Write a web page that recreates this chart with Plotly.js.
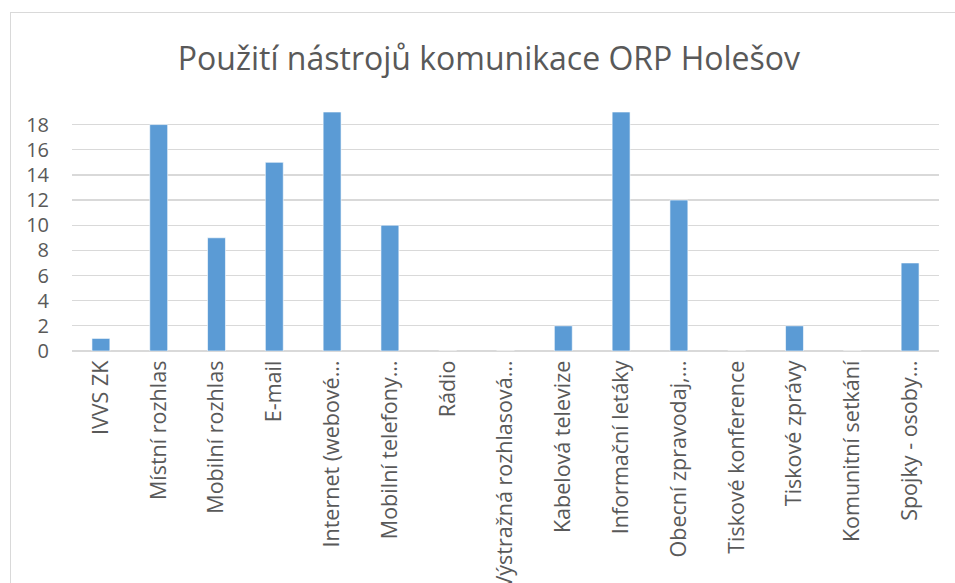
<!DOCTYPE html>
<html>
<head>
<meta charset="utf-8">
<script src="https://cdn.plot.ly/plotly-3.0.1.min.js"></script>
<style>
html,body{margin:0;padding:0;background:#fff;}
#frame{position:absolute;left:10px;top:12px;width:960px;height:600px;border:1px solid #D9D9D9;box-sizing:border-box;pointer-events:none;z-index:2;}
#chart{position:absolute;left:0;top:0;width:955px;height:583px;}
</style>
</head>
<body>
<div id="chart"></div>
<div id="frame"></div>
<script>
const categories = [
  "IVVS ZK",
  "Místní rozhlas",
  "Mobilní rozhlas",
  "E-mail",
  "Internet (webové…",
  "Mobilní telefony…",
  "Rádio",
  "Výstražná rozhlasová…",
  "Kabelová televize",
  "Informační letáky",
  "Obecní zpravodaj,…",
  "Tiskové konference",
  "Tiskové zprávy",
  "Komunitní setkání",
  "Spojky - osoby…"
];
const values = [1, 18, 9, 15, 19, 10, 0, 0, 2, 19, 12, 0, 2, 0, 7];
const yTicks = [0, 2, 4, 6, 8, 10, 12, 14, 16, 18];

const trace = {
  type: 'bar',
  x: categories,
  y: values,
  marker: {color: '#5B9BD5', line: {color: 'rgba(255,255,255,0.6)', width: 1}},
  hoverinfo: 'x+y'
};

const layout = {
  width: 955,
  height: 583,
  paper_bgcolor: '#ffffff',
  plot_bgcolor: '#ffffff',
  margin: {l: 72, r: 16, t: 112, b: 232},
  bargap: 0.69,
  showlegend: false,
  font: {family: '"Open Sans", "DejaVu Sans", sans-serif', color: '#595959', size: 16},
  title: {
    text: 'Použití nástrojů komunikace ORP Holešov',
    x: 0.512, xanchor: 'center', xref: 'container',
    y: 0.90, yanchor: 'middle', yref: 'container',
    font: {family: '"Open Sans", "DejaVu Sans", sans-serif', size: 32, color: '#595959'}
  },
  xaxis: {
    type: 'category',
    tickangle: -90,
    showgrid: false,
    showline: true,
    linecolor: '#D9D9D9',
    linewidth: 1,
    ticks: '',
    tickfont: {size: 21.5, color: '#595959'},
    automargin: false
  },
  yaxis: {
    range: [0, 19],
    tickvals: yTicks,
    ticktext: yTicks.map(String),
    showgrid: true,
    gridcolor: '#D9D9D9',
    gridwidth: 1.3,
    zeroline: true,
    zerolinecolor: '#D9D9D9',
    zerolinewidth: 1.3,
    showline: false,
    ticks: 'outside',
    ticklen: 18,
    tickcolor: 'rgba(0,0,0,0)',
    tickfont: {size: 20, color: '#595959'},
    automargin: false
  }
};

Plotly.newPlot('chart', [trace], layout, {displayModeBar: false, staticPlot: true});
</script>
</body>
</html>
